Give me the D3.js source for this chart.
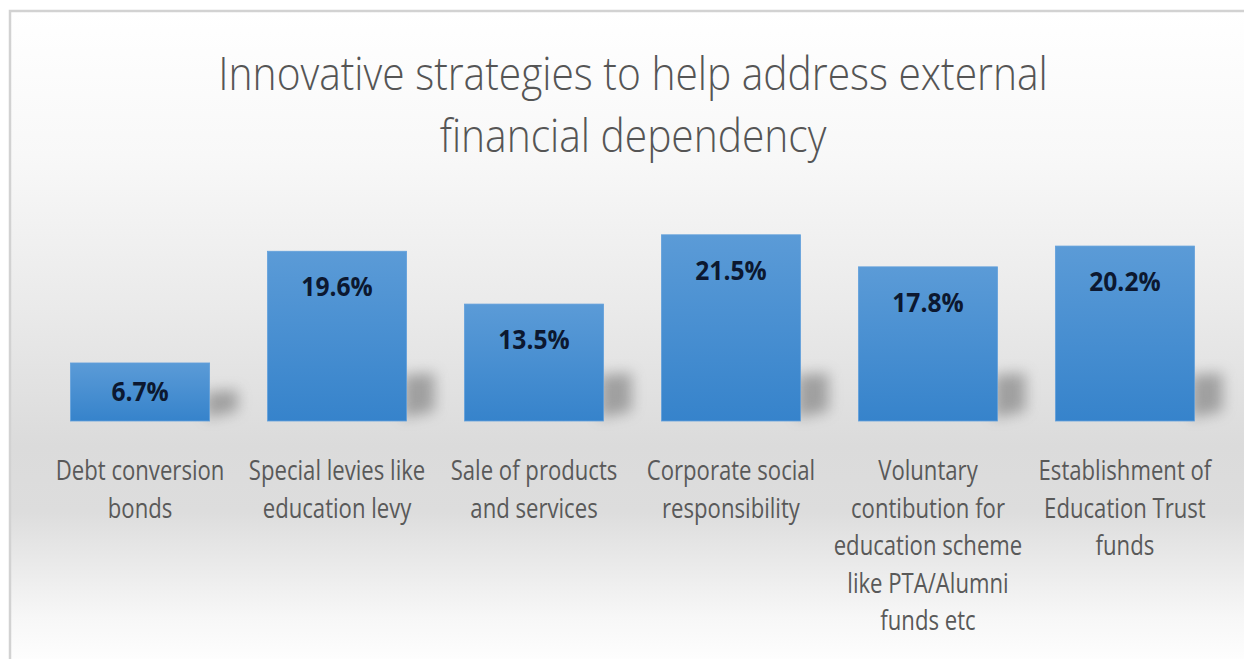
<!DOCTYPE html>
<html>
<head>
<meta charset="utf-8">
<script src="https://cdn.jsdelivr.net/npm/d3@7/dist/d3.min.js"></script>
<style>
  html, body { margin: 0; padding: 0; background: #ffffff; }
  svg { display: block; }
</style>
</head>
<body>
<svg id="chart" width="1244" height="659"></svg>
<script>
// Chart content
const titleLines = ["Innovative strategies to help address external", "financial dependency"];
const categories = [
  "Debt conversion bonds",
  "Special levies like education levy",
  "Sale of products and services",
  "Corporate social responsibility",
  "Voluntary contibution for education scheme like PTA/Alumni funds etc",
  "Establishment of Education Trust funds"
];
const categoryLines = [
  ["Debt conversion", "bonds"],
  ["Special levies like", "education levy"],
  ["Sale of products", "and services"],
  ["Corporate social", "responsibility"],
  ["Voluntary", "contibution for", "education scheme", "like PTA/Alumni", "funds etc"],
  ["Establishment of", "Education Trust", "funds"]
];
const values = [6.7, 19.6, 13.5, 21.5, 17.8, 20.2];

const W = 1244, H = 659;
const svg = d3.select("#chart");
const defs = svg.append("defs");

// Panel background: pale at top, grey band behind the bar bases, fading to white
const bg = defs.append("linearGradient").attr("id", "bgGrad")
  .attr("x1", 0).attr("y1", 0).attr("x2", 0).attr("y2", 1);
[[0, "#ffffff"], [0.22, "#f8f8f8"], [0.45, "#eaeaea"], [0.66, "#dbdbdb"], [0.76, "#dddddd"], [0.92, "#f7f7f7"], [1, "#ffffff"]]
  .forEach(([o, c]) => bg.append("stop").attr("offset", o).attr("stop-color", c));

// Bar fill: lighter blue at the top, deeper blue at the base
const barGrad = defs.append("linearGradient").attr("id", "barGrad")
  .attr("x1", 0).attr("y1", 0).attr("x2", 0).attr("y2", 1);
barGrad.append("stop").attr("offset", 0).attr("stop-color", "#5b9bd7");
barGrad.append("stop").attr("offset", 1).attr("stop-color", "#3683cb");

// Soft blur for the cast shadows
defs.append("filter").attr("id", "shadowBlur")
  .attr("x", "-80%").attr("y", "-80%").attr("width", "260%").attr("height", "260%")
  .append("feGaussianBlur").attr("stdDeviation", 7);

// Chart panel with a light frame on the left and top edges
svg.append("rect")
  .attr("x", 10).attr("y", 11).attr("width", W).attr("height", H)
  .attr("fill", "url(#bgGrad)")
  .attr("stroke", "#d2d2d2").attr("stroke-width", 2.5);

// Title
svg.append("g").selectAll("text")
  .data(titleLines)
  .join("text")
  .attr("transform", (d, i) => `translate(633, ${90 + i * 62}) scale(0.885, 1)`)
  .attr("text-anchor", "middle")
  .attr("font-family", "'Open Sans', sans-serif")
  .attr("font-weight", 300)
  .attr("font-size", 46)
  .attr("fill", "#555555")
  .text(d => d);

// Scales
const x = d3.scaleBand()
  .domain(categories)
  .range([41, 1224])
  .paddingInner(0.294)
  .paddingOuter(0.15);

const y = d3.scaleLinear()
  .domain([0, 25])
  .range([421, 204.5]);

const base = y(0);

// Perspective shadows cast to the right of each bar
svg.append("g").selectAll("path")
  .data(values)
  .join("path")
  .attr("d", (d, i) => {
    const x1 = x(categories[i]) + x.bandwidth();
    const h = base - y(d);
    const sh = Math.min(h * 0.5, 46);
    return `M${x1 - 4},${base - 3} L${x1 - 4},${base - sh} L${x1 + 28},${base - sh - 2} L${x1 + 28},${base - 10} Z`;
  })
  .attr("fill", "#6a6a6a")
  .attr("opacity", 0.55)
  .attr("filter", "url(#shadowBlur)");

// Bars
svg.append("g").selectAll("rect")
  .data(values)
  .join("rect")
  .attr("x", (d, i) => x(categories[i]))
  .attr("y", d => y(d))
  .attr("width", x.bandwidth())
  .attr("height", d => base - y(d))
  .attr("fill", "url(#barGrad)")
  .attr("stroke", "#62a0db")
  .attr("stroke-width", 0.8);

// Value labels inside the top of each bar
svg.append("g").selectAll("text")
  .data(values)
  .join("text")
  .attr("transform", (d, i) => {
    const cx = x(categories[i]) + x.bandwidth() / 2;
    const top = y(d);
    const by = Math.min(top + 45, (top + base) / 2 + 9);
    return `translate(${cx}, ${by}) scale(0.93, 1)`;
  })
  .attr("text-anchor", "middle")
  .attr("font-family", "'Open Sans', sans-serif")
  .attr("font-weight", 700)
  .attr("font-size", 26.5)
  .attr("fill", "#0c1830")
  .text(d => d.toFixed(1) + "%");

// Category labels below the bars
const catG = svg.append("g").selectAll("g")
  .data(categories)
  .join("g");

catG.each(function(c, i) {
  const cx = x(c) + x.bandwidth() / 2;
  d3.select(this).selectAll("text")
    .data(categoryLines[i])
    .join("text")
    .attr("transform", (d, j) => `translate(${cx}, ${480 + j * 37.5}) scale(0.82, 1)`)
    .attr("text-anchor", "middle")
    .attr("font-family", "'Open Sans', sans-serif")
    .attr("font-size", 27)
    .attr("fill", "#595959")
    .text(d => d);
});
</script>
</body>
</html>
